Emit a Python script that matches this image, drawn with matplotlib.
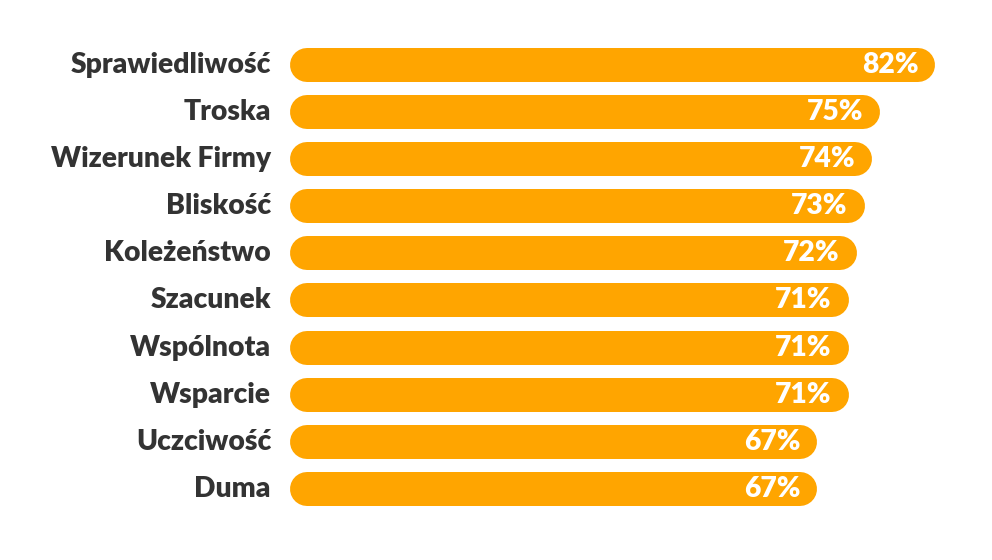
import matplotlib.pyplot as plt
from matplotlib.transforms import ScaledTranslation

categories = ["Sprawiedliwość", "Troska", "Wizerunek Firmy", "Bliskość", "Koleżeństwo",
              "Szacunek", "Wspólnota", "Wsparcie", "Uczciwość", "Duma"]
values = [82, 75, 74, 73, 72, 71, 71, 71, 67, 67]

BAR_COLOR = "#FFA500"
TEXT_COLOR = "#333333"
BAR_PX = 34  # bar thickness in pixels

plt.rcParams["font.family"] = ["Lato", "DejaVu Sans"]

fig = plt.figure(figsize=(9.92, 5.6), dpi=100)
ax = fig.add_axes([290 / 992, 0.085, 669 / 992, 0.841])
ax.set_xlim(0, 85)
ax.set_ylim(len(categories) - 0.5, -0.5)
ax.axis("off")

# radius of round caps in data units along x
px_per_unit = ax.transData.transform((1, 0))[0] - ax.transData.transform((0, 0))[0]
r = (BAR_PX / 2) / px_per_unit
lw = BAR_PX * 72 / fig.dpi

for i, (cat, val) in enumerate(zip(categories, values)):
    ax.plot([r, val - r], [i, i], color=BAR_COLOR, linewidth=lw,
            solid_capstyle="round", zorder=2)
    ax.text(0, i, cat, transform=ax.transData + ScaledTranslation(-19 / 100, 0, fig.dpi_scale_trans),
            ha="right", va="center", fontsize=20.3, fontweight="heavy", color=TEXT_COLOR)
    ax.text(val, i, f"{val}%", transform=ax.transData + ScaledTranslation(-17 / 100, 0, fig.dpi_scale_trans),
            ha="right", va="center", fontsize=20.3, fontweight="heavy", color="white", zorder=3)

fig.savefig("out.png", dpi=100, facecolor="white")
